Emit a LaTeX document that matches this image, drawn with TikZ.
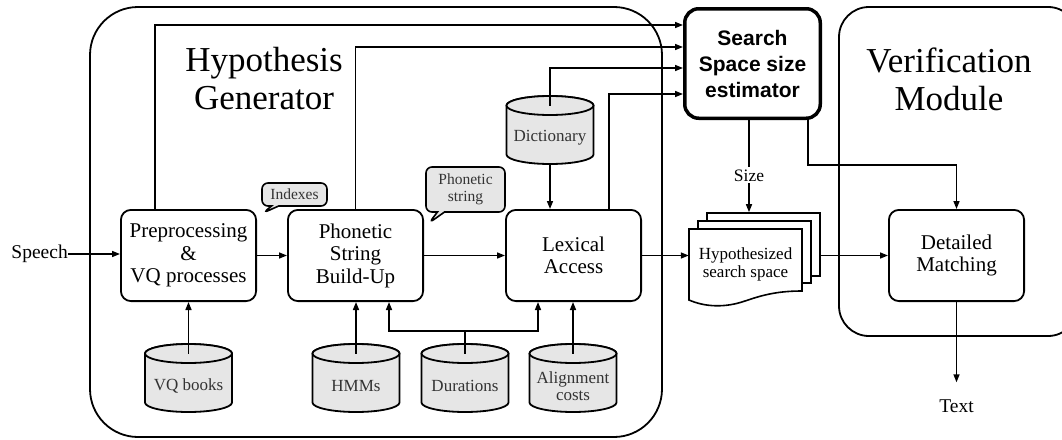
\documentclass[tikz,border=0pt]{standalone}
\usepackage{fontspec}
\setmainfont{Liberation Serif}
\setsansfont{Liberation Sans}
\usetikzlibrary{arrows.meta,shapes.callouts,calc}
\definecolor{dbgray}{HTML}{E6E6E6}
\newcommand\dbcyl[4]{%
  \path[dbshape] (#2-43.5,#3-24.5) -- (#2-43.5,#3+24.5)
     arc[start angle=180,end angle=360,x radius=43.5pt,y radius=9.5pt]
     -- (#2+43.5,#3-24.5)
     arc[start angle=0,end angle=180,x radius=43.5pt,y radius=9.5pt] -- cycle;
  \path[dbshape] (#2,#3-24.5) ellipse[x radius=43.5pt,y radius=9.5pt];
  \coordinate (#1-top) at (#2,#3-24.5);
  \coordinate (#1-bot) at (#2,#3+34);
  \node[dbtext] (#1) at (#2,#3+8) {#4};
}
\begin{document}
\begin{tikzpicture}[x=1pt,y=-1pt,
  arr/.style={line width=1.5pt,-{Triangle[length=8pt,width=6pt]}},
  ln/.style={line width=1.5pt},
  cont/.style={draw,line width=1.8pt},
  proc/.style={draw,line width=1.8pt,rounded corners=10pt,minimum width=135.2pt,minimum height=91.2pt,align=center,font=\fontsize{21}{22.5}\selectfont,inner sep=0pt},
  dbshape/.style={draw,line width=1.8pt,fill=dbgray},
  dbtext/.style={align=center,font=\fontsize{17}{17}\selectfont,text=black!80,inner sep=0pt},
  bubble/.style={rectangle callout,draw,line width=1.6pt,fill=dbgray,rounded corners=6pt,align=center,font=\fontsize{15.5}{17}\selectfont,text=black!80,inner sep=0pt},
  title/.style={align=center,font=\fontsize{35}{38}\selectfont,inner sep=0pt},
  lbl/.style={font=\fontsize{19.5}{20}\selectfont,inner sep=0pt},
  page/.style={draw,line width=1.6pt,fill=white}
]
\useasboundingbox (0,0) rectangle (1062,439);

% containers
\draw[cont,rounded corners=48pt] (90,7) rectangle (662,437);
\draw[cont,rounded corners=30pt] (839,7) rectangle (1078,336);
\node[title] (hg) at (264,79) {Hypothesis\\Generator};
\node[title] (vm) at (949,79) {Verification\\Module};

% process boxes
\node[proc] (pre) at (188.5,255.5) {Preprocessing\\\&\\VQ processes};
\node[proc] (pho) at (355.5,255.5) {Phonetic\\String\\Build-Up};
\node[proc] (lex) at (573.5,255.5) {Lexical\\Access};
\node[proc] (det) at (956.5,255.5) {Detailed\\Matching};

% estimator
\node[draw,line width=3.5pt,rounded corners=14pt,minimum width=135.5pt,minimum height=109.5pt,align=center,font=\sffamily\bfseries\fontsize{21}{26}\selectfont,inner sep=0pt] (est) at (752.5,63.5) {Search\\Space size\\estimator};

% databases
\dbcyl{vq}{188.5}{378}{VQ books}
\dbcyl{hmm}{356}{378}{HMMs}
\dbcyl{dur}{465}{378}{Durations}
\dbcyl{ali}{573}{378}{Alignment\\costs}
\dbcyl{dic}{550}{130}{Dictionary}

% document stack
\node[page,minimum width=113pt,minimum height=63pt,inner sep=0pt] (doc3) at (763.5,244.5) {};
\node[page,minimum width=113pt,minimum height=62pt,inner sep=0pt] (doc2) at (754.5,252) {};
\draw[page] (689,229) -- (802,229) -- (802,291)
  .. controls (775,291) and (760,296) .. (745,301)
  .. controls (725,308) and (705,307) .. (689,300) -- cycle;
\node[minimum width=113pt,minimum height=71pt,inner sep=0pt,align=center,font=\fontsize{17}{18}\selectfont] (hyp) at (745.5,264.5) {Hypothesized\\search space};

% callouts
\node[bubble,minimum width=65pt,minimum height=23pt,callout absolute pointer={(263,213)}] (idx) at (294.5,194.5) {Indexes};
\node[bubble,minimum width=79pt,minimum height=45pt,callout absolute pointer={(429,223)}] (phs) at (465.5,189.5) {Phonetic\\string};

% labels
\node[lbl,anchor=east] (speech) at (68,254) {Speech};
\node[lbl] (out) at (956.5,406) {Text};

% estimator inputs
\coordinate (e1) at ($(est.north west)+(0,18)$);
\coordinate (e2) at ($(est.north west)+(0,40)$);
\coordinate (e3) at ($(est.north west)+(0,61)$);
\coordinate (e4) at ($(est.north west)+(0,87)$);
\draw[arr] ($(pre.north west)+(35,0)$) |- (e1);
\draw[arr] (pho.north) |- (e2);
\draw[arr] (dic-top) |- (e3);
\draw[arr] ($(lex.north west)+(104,0)$) |- (e4);

% main flow
\draw[arr] (speech.east) -- (speech.east -| pre.west);
\draw[arr] (pre.east) -- (pho.west);
\draw[arr] (pho.east) -- (lex.west);
\draw[arr] (lex.east) -- (lex.east -| hyp.west);
\draw[arr] (doc3.east |- det.west) -- (det.west);
\draw[arr] (dic-bot) -- (dic-bot |- lex.north);

% database inputs
\draw[arr] (vq-top) -- (vq-top |- pre.south);
\draw[arr] (hmm-top) -- (hmm-top |- pho.south);
\coordinate (dj) at (465,331);
\draw[ln] (dur-top) -- (dj);
\draw[arr] (dj) -| ($(pho.south)+(33.5,0)$);
\draw[arr] (dj) -| ($(lex.south)+(-35.5,0)$);
\draw[arr] (ali-top) -- (ali-top |- lex.south);

% estimator outputs
\coordinate (s0) at ($(est.south)+(-3.5,0)$);
\draw[arr] (s0) -- node[pos=0.6,lbl,fill=white,inner sep=2pt,font=\fontsize{17.5}{19}\selectfont] (size) {Size} (s0 |- doc3.north);
\coordinate (s1) at ($(est.south east)+(-14,0)$);
\draw[arr] (s1) -- ++(0,45) -| (det.north);
\draw[arr] (det.south) -- ($(out.north)+(0,-17)$);
\end{tikzpicture}
\end{document}
